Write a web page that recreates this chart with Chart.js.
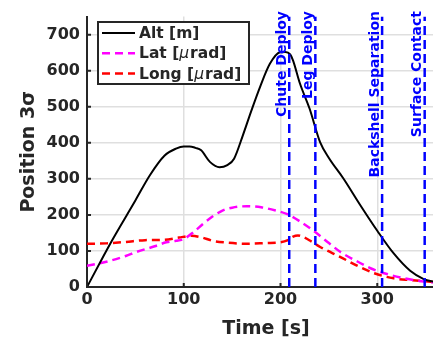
<!DOCTYPE html>
<html lang="en">
<head>
    <meta charset="UTF-8">
    <title>Position 3 sigma</title>
    <script src="https://cdn.jsdelivr.net/npm/chart.js"></script>
    <style>
        html, body {
            margin: 0;
            padding: 0;
            background: #fff;
            overflow: hidden;
        }
        .chart-container {
            width: 445px;
            height: 342px;
        }
    </style>
</head>
<body>
    <div class="chart-container">
        <canvas id="posChart"></canvas>
    </div>

    <script>
        // Alt [m]
        const altTime = [0, 25, 50, 65, 80, 92, 100, 106, 112, 118, 127, 137, 145, 152, 161, 170, 179, 189, 199.5, 205, 210, 213, 220, 230, 241, 250, 265, 282, 300, 317, 334, 348, 358, 365];
        const altVals = [0, 125, 240, 310, 364, 384, 390, 390, 386, 379, 347, 332, 338, 356, 420, 490, 556, 619, 651, 652, 645, 628, 565, 495, 401, 358, 301, 229, 156, 93, 45, 22, 15, 12];

        // Lat [urad]
        const latTime = [0, 20, 40, 51, 70, 82, 92, 100, 110, 120, 130, 140, 150, 165, 180, 195, 207, 220, 234, 250, 262, 280, 293, 310, 328, 348, 365];
        const latVals = [59, 70, 86, 97, 113, 124, 128, 133, 152, 175, 196, 212, 220, 224, 221, 212, 202, 182, 156, 122, 97, 70, 52, 36, 24, 15, 12];

        // Long [urad]
        const longTime = [0, 20, 40, 60, 80, 95, 108, 118, 130, 145, 165, 185, 200, 207, 213, 218, 224, 232, 241, 262, 280, 297, 317, 335, 348, 365];
        const longVals = [120, 121, 125, 130, 131, 137, 142, 138, 128, 123, 120, 122, 124, 129, 140, 143, 138, 126, 111, 83, 58, 38, 24, 19, 16, 12];

        // events
        const eventTimes = [209, 236, 305, 349];
        const eventLabels = ['Chute Deploy', 'Leg Deploy', 'Backshell Separation', 'Surface Contact'];

        const xTicks = [0, 100, 200, 300];
        const yTicks = [0, 100, 200, 300, 400, 500, 600, 700];

        const axisColor = '#262626';
        const gridColor = '#dfdfdf';
        const fontName = '"DejaVu Sans"';

        function pts(t, v) {
            return t.map((x, i) => ({ x: x, y: v[i] }));
        }

        // legend label parts: [text, italic]
        const curves = [
            { label: 'Alt [m]', parts: [['Alt [m]', false]], data: pts(altTime, altVals), borderColor: '#000000', borderWidth: 2, borderDash: [] },
            { label: 'Lat [\u03bcrad]', parts: [['Lat [', false], ['\u03bc', true], ['rad]', false]], data: pts(latTime, latVals), borderColor: '#ff00ff', borderWidth: 2.5, borderDash: [8, 5] },
            { label: 'Long [\u03bcrad]', parts: [['Long [', false], ['\u03bc', true], ['rad]', false]], data: pts(longTime, longVals), borderColor: '#ff0000', borderWidth: 2.5, borderDash: [8, 5] }
        ];

        const eventSets = eventTimes.map(t => ({
            label: '',
            data: [{ x: t, y: 0 }, { x: t, y: 750 }],
            borderColor: '#0000ff',
            borderWidth: 2.5,
            borderDash: [9, 5],
            order: 0
        }));

        // boxed legend, upper left
        const boxLegend = {
            id: 'boxLegend',
            afterDatasetsDraw(chart) {
                const ctx = chart.ctx;
                const x0 = 98, y0 = 22, w = 151, h = 62;
                ctx.save();
                ctx.fillStyle = '#fff';
                ctx.fillRect(x0, y0, w, h);
                ctx.lineWidth = 2;
                ctx.strokeStyle = axisColor;
                ctx.strokeRect(x0, y0, w, h);
                ctx.textBaseline = 'middle';
                curves.forEach((c, i) => {
                    const y = 33 + i * 20.3;
                    ctx.beginPath();
                    ctx.setLineDash(c.borderDash);
                    ctx.strokeStyle = c.borderColor;
                    ctx.lineWidth = c.borderWidth;
                    ctx.moveTo(102, y);
                    ctx.lineTo(135, y);
                    ctx.stroke();
                    ctx.setLineDash([]);
                    ctx.fillStyle = axisColor;
                    let tx = 139;
                    c.parts.forEach(p => {
                        ctx.font = (p[1] ? 'italic ' : 'bold ') + '15.5px ' + fontName;
                        ctx.fillText(p[0], tx, y + 1);
                        tx += ctx.measureText(p[0]).width + (p[1] ? 1 : 0);
                    });
                });
                ctx.restore();
            }
        };

        // rotated event labels + small inward tick marks
        const extras = {
            id: 'extras',
            afterDatasetsDraw(chart) {
                const ctx = chart.ctx;
                const xs = chart.scales.x, ys = chart.scales.y;
                const area = chart.chartArea;
                ctx.save();
                ctx.strokeStyle = axisColor;
                ctx.lineWidth = 2;
                ctx.beginPath();
                xTicks.forEach(v => {
                    const px = xs.getPixelForValue(v);
                    ctx.moveTo(px, area.bottom);
                    ctx.lineTo(px, area.bottom - 4);
                });
                yTicks.forEach(v => {
                    const py = ys.getPixelForValue(v);
                    ctx.moveTo(area.left, py);
                    ctx.lineTo(area.left + 4, py);
                });
                ctx.stroke();

                ctx.font = 'bold 14px ' + fontName;
                ctx.fillStyle = '#0000ff';
                ctx.textAlign = 'right';
                ctx.textBaseline = 'alphabetic';
                eventTimes.forEach((t, i) => {
                    const px = xs.getPixelForValue(t);
                    ctx.save();
                    ctx.translate(px - 3.5, 11);
                    ctx.rotate(-Math.PI / 2);
                    ctx.fillText(eventLabels[i], 0, 0);
                    ctx.restore();
                });
                ctx.restore();
            }
        };

        const ctx = document.getElementById('posChart').getContext('2d');
        new Chart(ctx, {
            type: 'line',
            data: {
                datasets: curves.map(c => Object.assign({
                    pointRadius: 0,
                    fill: false,
                    cubicInterpolationMode: 'monotone',
                    order: 1
                }, c)).concat(eventSets.map(e => Object.assign({ pointRadius: 0, fill: false }, e)))
            },
            options: {
                responsive: true,
                maintainAspectRatio: false,
                animation: false,
                layout: { padding: { top: 10, right: 0, left: 0, bottom: 0 } },
                plugins: {
                    legend: { display: false },
                    tooltip: { enabled: false }
                },
                scales: {
                    x: {
                        type: 'linear',
                        min: 0,
                        max: 370,
                        afterBuildTicks: s => { s.ticks = xTicks.map(v => ({ value: v })); },
                        afterFit: s => { s.height = 55; },
                        ticks: {
                            color: axisColor,
                            font: { family: 'DejaVu Sans', size: 16, weight: 'bold' },
                            maxRotation: 0,
                            padding: 3
                        },
                        grid: { color: gridColor, lineWidth: 1.5, drawTicks: false },
                        border: { display: true, color: axisColor, width: 2 },
                        title: {
                            display: true,
                            text: 'Time [s]',
                            color: axisColor,
                            font: { family: 'DejaVu Sans', size: 19, weight: 'bold' },
                            padding: { top: 0, bottom: 2 }
                        }
                    },
                    y: {
                        min: 0,
                        max: 750,
                        afterBuildTicks: s => { s.ticks = yTicks.map(v => ({ value: v })); },
                        afterFit: s => { s.width = 87; },
                        ticks: {
                            color: axisColor,
                            font: { family: 'DejaVu Sans', size: 16, weight: 'bold' },
                            padding: 7
                        },
                        grid: { color: gridColor, lineWidth: 1.5, drawTicks: false },
                        border: { display: true, color: axisColor, width: 2 },
                        title: {
                            display: true,
                            text: 'Position 3\u03c3',
                            color: axisColor,
                            font: { family: 'DejaVu Sans', size: 19, weight: 'bold' },
                            padding: { top: 18, bottom: 0 }
                        }
                    }
                }
            },
            plugins: [extras, boxLegend]
        });
    </script>
</body>
</html>
